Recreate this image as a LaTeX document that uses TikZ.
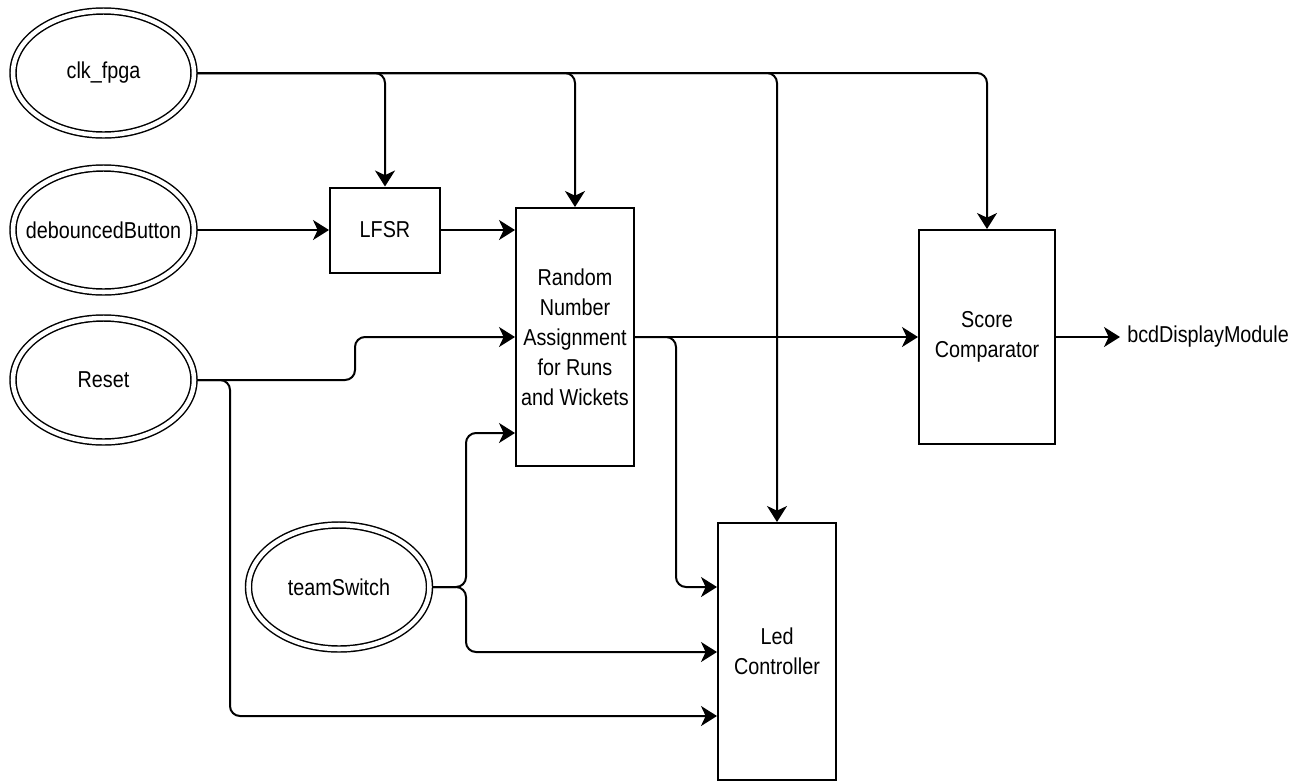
\documentclass[tikz,border=0pt]{standalone}
\usepackage{fontspec}
\setmainfont{Liberation Sans}[FakeStretch=0.86]
\usetikzlibrary{shapes.geometric,arrows.meta}
\begin{document}
\begin{tikzpicture}[x=0.75pt,y=-0.75pt,
  every node/.style={font=\fontsize{17.25pt}{22.5pt}\selectfont},
  sig/.style={ellipse, draw, double, line width=1.1pt, double distance=3.4pt,
    minimum width=135.75pt, minimum height=93pt, inner sep=0pt, outer sep=2.25pt},
  blk/.style={rectangle, draw, line width=1.5pt, inner sep=0pt, align=center},
  arr/.style={line width=1.5pt, rounded corners=7.5pt,
    -{Stealth[length=12pt,width=15pt,inset=3.5pt]}},
]
\fill[white] (0,0) rectangle (1311,783);
\useasboundingbox (0,0) rectangle (1311,783);

% signals
\node[sig, label={center:clk\_fpga}]        (clk)   at (103.5,73)  {};
\node[sig, label={center:debouncedButton}] (deb)   at (103.5,230) {};
\node[sig, label={center:Reset}]           (reset) at (103.5,380) {};
\node[sig, label={center:teamSwitch}]      (team)  at (339,587)   {};

% blocks
\node[blk, minimum width=82.5pt, minimum height=63.75pt] (lfsr) at (385,230) {LFSR};
\node[blk, minimum width=88.5pt, minimum height=193.5pt] (rand) at (575,337)
  {Random\\Number\\Assignment\\for Runs\\and Wickets};
\node[blk, minimum width=102pt, minimum height=160.5pt] (score) at (987,337)
  {Score\\Comparator};
\node[blk, minimum width=88.5pt, minimum height=192.75pt] (led) at (777,651.5)
  {Led\\Controller};
\node[anchor=west, inner sep=5.25pt] (bcd) at (1120,337) {bcdDisplayModule};

% clock distribution
\draw[arr] (clk.east) -| (lfsr.north);
\draw[arr] (clk.east) -| (rand.north);
\draw[arr] (clk.east) -| (led.north);
\draw[arr] (clk.east) -| (score.north);

% debounced button
\draw[arr] (deb.east) -- (lfsr.west);
\draw[arr] (lfsr.east) -- (lfsr.east -| rand.west);

% reset
\coordinate (rj) at (355,380);
\coordinate (rd) at (230,716);
\draw[arr] (reset.east) -- (rj) |- (rand.west);
\draw[arr] (reset.east) -| (rd) -- (rd -| led.west);

% random outputs
\draw[arr] (rand.east) -- (score.west);
\coordinate (ro) at (676,587);
\draw[arr] (rand.east) -| (ro) -- (ro -| led.west);

% team switch
\coordinate (tu) at (466,433);
\coordinate (td) at (466,652);
\draw[arr] (team.east) -| (tu) -- (tu -| rand.west);
\draw[arr] (team.east) -| (td) -- (td -| led.west);

% output
\draw[arr] (score.east) -- (bcd.west);
\end{tikzpicture}
\end{document}
